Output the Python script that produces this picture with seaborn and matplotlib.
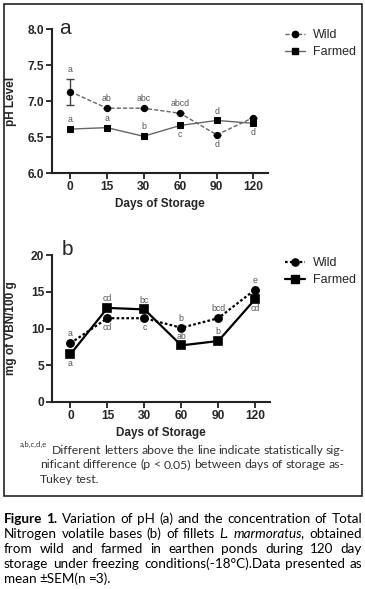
import matplotlib
matplotlib.use("Agg")
import matplotlib.pyplot as plt
import seaborn as sns
import pandas as pd
from matplotlib.lines import Line2D
from matplotlib.patches import Rectangle

# data
days = ["0", "15", "30", "60", "90", "120"]

ph_wild = [7.13, 6.90, 6.90, 6.83, 6.53, 6.77]
ph_farmed = [6.61, 6.63, 6.51, 6.66, 6.73, 6.69]
ph_wild_sem = [0.18, 0, 0, 0, 0, 0]
ph_wild_letters = ["a", "ab", "abc", "abcd", "d", ""]
ph_farmed_letters = ["a", "a", "b", "c", "d", "d"]

tvb_wild = [8.0, 11.4, 11.4, 10.1, 11.4, 15.3]
tvb_farmed = [6.5, 12.8, 12.6, 7.7, 8.3, 14.0]
tvb_wild_letters = ["a", "cd", "c", "b", "bcd", "e"]
tvb_farmed_letters = ["a", "cd", "bc", "ab", "b", "cd"]

# where the letters sit: 1 = above the point, -1 = below
ph_wild_side = [1, 1, 1, 1, -1, 1]
ph_farmed_side = [1, 1, 1, -1, 1, -1]
tvb_wild_side = [1, -1, -1, 1, 1, 1]
tvb_farmed_side = [-1, 1, 1, 1, 1, -1]

W, H = 365, 589
sns.set_style("ticks")
plt.rcParams["font.family"] = ["Liberation Sans", "DejaVu Sans"]
fig = plt.figure(figsize=(W / 100, H / 100), dpi=100)


def px(x0, y0, x1, y1):
    # pixel box -> figure fraction [left, bottom, width, height]
    return [x0 / W, 1 - y1 / H, (x1 - x0) / W, (y1 - y0) / H]


def panel(rect, wild, farmed, wl, fl, ws, fs, line_col, wild_dash, lw, ms, sem=None):
    ax = fig.add_axes(rect)
    df = pd.DataFrame({"day": days * 2,
                       "value": wild + farmed,
                       "group": ["Wild"] * 6 + ["Farmed"] * 6})
    sns.pointplot(data=df, x="day", y="value", hue="group", order=days,
                  hue_order=["Wild", "Farmed"],
                  palette={"Wild": "black", "Farmed": "black"},
                  markers=["o", "s"], linestyles=["--", "-"],
                  errorbar=None, legend=False, ax=ax,
                  markersize=ms, linewidth=lw)
    lines = ax.lines[:2]
    for ln in lines:
        ln.set_color(line_col)
        ln.set_markerfacecolor("black")
        ln.set_markeredgecolor("black")
        ln.set_zorder(3)
    lines[0].set_dashes(wild_dash)
    if sem is not None:
        ax.errorbar(range(len(days)), wild, yerr=sem, fmt="none",
                    ecolor="#444444", elinewidth=1, capsize=3, zorder=2)
        top = [v + s for v, s in zip(wild, sem)]
    else:
        top = wild
    for i in range(len(days)):
        for val, lab, side in ((top[i] if ws[i] > 0 else wild[i], wl[i], ws[i]),
                               (farmed[i], fl[i], fs[i])):
            if not lab:
                continue
            ax.annotate(lab, (i, val), xytext=(0, 3.5 * side), textcoords="offset points",
                        ha="center", va="bottom" if side > 0 else "top",
                        fontsize=6.3, color="#555555")
    ax.set_xlim(-0.5, 5.4)
    for s in ("top", "right"):
        ax.spines[s].set_visible(False)
    for s in ("left", "bottom"):
        ax.spines[s].set_linewidth(1.5)
        ax.spines[s].set_color("#222222")
    ax.tick_params(length=4, width=1.3, labelsize=8.6, pad=1.5, color="#222222")
    for t in ax.get_xticklabels() + ax.get_yticklabels():
        t.set_fontweight("bold")
    ax.set_xlabel("Days of Storage", fontsize=8.5, fontweight="bold", labelpad=4)
    return ax


# panel a
ax1 = panel(px(52, 29, 268, 173), ph_wild, ph_farmed, ph_wild_letters, ph_farmed_letters,
            ph_wild_side, ph_farmed_side, "#666666", (3, 1.5), 1.0, 4.5, sem=ph_wild_sem)
ax1.set_ylim(6.0, 8.0)
ax1.set_yticks([6.0, 6.5, 7.0, 7.5, 8.0])
ax1.set_yticklabels(["6.0", "6.5", "7.0", "7.5", "8.0"], fontweight="bold")
ax1.set_ylabel("pH Level", fontsize=8.5, fontweight="bold")
ax1.yaxis.set_label_coords(-35 / 216, 0.5)
fig.text(59 / W, 1 - 34 / H, "a", fontsize=15)

# panel b
ax2 = panel(px(52, 255, 270, 402), tvb_wild, tvb_farmed, tvb_wild_letters, tvb_farmed_letters,
            tvb_wild_side, tvb_farmed_side, "black", (1.2, 1.0), 1.6, 5.2)
ax2.set_ylim(0, 20)
ax2.set_yticks([0, 5, 10, 15, 20])
ax2.set_yticklabels(["0", "5", "10", "15", "20"], fontweight="bold")
ax2.set_ylabel("mg of VBN/100 g", fontsize=8.5, fontweight="bold")
ax2.yaxis.set_label_coords(-35 / 218, 0.5)
fig.text(62 / W, 1 - 255 / H, "b", fontsize=15)


def legend(ax, ytop, gray, dash, lw, ms):
    hs = [Line2D([], [], color=gray, lw=lw, dashes=dash, marker="o", markersize=ms,
                 markerfacecolor="black", markeredgecolor="black"),
          Line2D([], [], color=gray, lw=lw, marker="s", markersize=ms,
                 markerfacecolor="black", markeredgecolor="black")]
    ax.legend(hs, ["Wild", "Farmed"], loc="upper left",
              bbox_to_anchor=(285 / W, 1 - ytop / H), bbox_transform=fig.transFigure,
              frameon=False, fontsize=9, handlelength=1.6, handletextpad=0.6,
              labelspacing=0.4, borderpad=0, borderaxespad=0)


legend(ax1, 29, "#666666", (3, 1.5), 1.0, 4.5)
legend(ax2, 257, "black", (1.2, 1.0), 1.6, 5.2)

# frame round the figure
fig.patches.append(Rectangle((4 / W, 1 - 496 / H), 358 / W, 492 / H, transform=fig.transFigure,
                             fill=False, lw=1.2, ec="#222222"))

cap_font = ["Lato", "DejaVu Sans"]
renderer = fig.canvas.get_renderer()


def put_line(words, x0, x1, y, size, color, justify=True, styles=None):
    styles = styles or {}
    objs = []
    for w in words:
        objs.append(fig.text(0, 1 - y / H, w, fontsize=size, family=cap_font, color=color,
                             va="baseline", ha="left", **styles.get(w, {})))
    widths = [t.get_window_extent(renderer).width for t in objs]
    if justify and len(objs) > 1:
        gap = (x1 - x0 - sum(widths)) / (len(objs) - 1)
    else:
        gap = size * 0.32
    x = x0
    for t, wd in zip(objs, widths):
        t.set_x(x / W)
        x += wd + gap


# footnote
fig.text(20 / W, 1 - 447 / H, "a,b,c,d,e", fontsize=5.5, family=cap_font, color="#333333",
         va="baseline")
put_line("Different letters above the line indicate statistically sig-".split(),
         52, 345, 454, 8.8, "#333333")
put_line("nificant difference (p < 0.05) between days of storage as-".split(),
         40, 345, 468, 8.8, "#333333")
put_line("Tukey test.".split(), 40, 345, 483, 8.8, "#333333", justify=False)

# caption
cap_styles = {"Figure": {"fontweight": "bold"}, "1.": {"fontweight": "bold"},
              "L.": {"style": "italic"}, "marmoratus,": {"style": "italic"}}
caption = ["Figure 1. Variation of pH (a) and the concentration of Total",
           "Nitrogen volatile bases (b) of fillets L. marmoratus, obtained",
           "from wild and farmed in earthen ponds during 120 day",
           "storage under freezing conditions(-18\u00b0C).Data presented as",
           "mean \u00b1SEM(n =3)."]
for k, line in enumerate(caption):
    put_line(line.split(), 4, 362, 523 + 15 * k, 9.7, "black",
             justify=k < len(caption) - 1, styles=cap_styles)

fig.savefig("out.png", dpi=100)
